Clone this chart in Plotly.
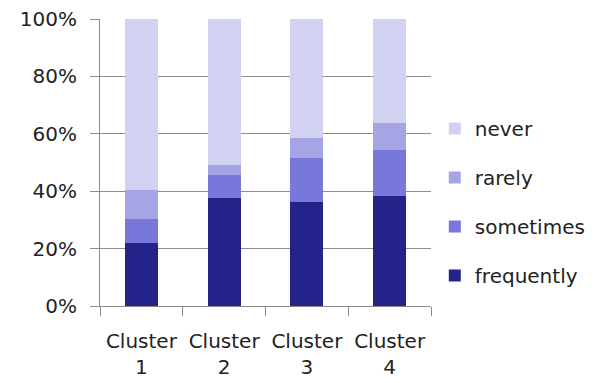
import plotly.graph_objects as go

clusters = ["Cluster<br>1", "Cluster<br>2", "Cluster<br>3", "Cluster<br>4"]
frequently = [21.8, 37.5, 36.2, 38.3]
sometimes = [8.5, 8.0, 15.5, 16.1]
rarely = [10.2, 3.6, 6.8, 9.3]
never = [59.5, 50.9, 41.5, 36.3]

# (name, values, colour, legend rank) – stacked bottom to top, listed top to bottom
series = [
    ("frequently", frequently, "#232389", 4),
    ("sometimes", sometimes, "#7878DC", 3),
    ("rarely", rarely, "#A5A5E6", 2),
    ("never", never, "#D1D1F2", 1),
]

fig = go.Figure()
for name, vals, color, rank in series:
    fig.add_trace(go.Bar(
        x=clusters, y=vals, name=name, legendgroup=name, legendrank=rank,
        marker=dict(color=color, line=dict(width=0)),
        width=0.4,
    ))

font = dict(family="DejaVu Sans, Open Sans, sans-serif", size=20, color="#222222")

fig.update_layout(
    barmode="stack",
    width=594, height=383,
    margin=dict(l=100, r=163, t=19, b=77),
    plot_bgcolor="white", paper_bgcolor="white",
    font=font,
    showlegend=True,
    legend=dict(
        traceorder="grouped", tracegroupgap=20,
        xref="container", x=0.732, xanchor="left",
        yref="paper", y=0.362, yanchor="middle",
        font=font, itemwidth=30,
    ),
    xaxis=dict(
        showline=True, linecolor="#8c8c8c", linewidth=1,
        ticks="outside", tickson="boundaries", ticklen=9, tickcolor="#8c8c8c",
        showgrid=False, tickfont=font, tickangle=0,
        automargin=False, ticklabelstandoff=17,
    ),
    yaxis=dict(
        range=[0, 100], tickvals=[0, 20, 40, 60, 80, 100],
        ticktext=["0%", "20%", "40%", "60%", "80%", "100%"],
        showline=True, linecolor="#8c8c8c", linewidth=1,
        ticks="outside", ticklen=9, tickcolor="#8c8c8c",
        showgrid=True, gridcolor="#8c8c8c", gridwidth=1,
        zeroline=False, tickfont=font, automargin=False, ticklabelstandoff=9,
    ),
)

fig.write_html("out.html")
